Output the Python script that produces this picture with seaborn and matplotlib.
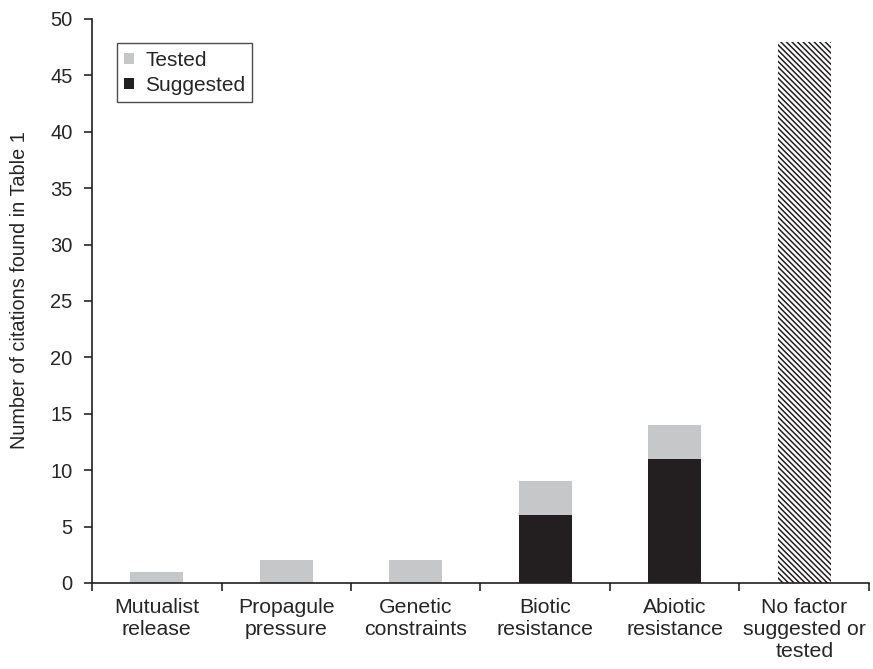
import numpy as np
import pandas as pd
import matplotlib
matplotlib.use('Agg')
import matplotlib.pyplot as plt
import seaborn as sns

categories = ['Mutualist\nrelease', 'Propagule\npressure', 'Genetic\nconstraints',
              'Biotic\nresistance', 'Abiotic\nresistance', 'No factor\nsuggested or\ntested']
suggested = [0, 0, 0, 6, 11, 0]
tested = [1, 2, 2, 3, 3, 0]
no_factor = [0, 0, 0, 0, 0, 48]

sns.set_style('white')
plt.rcParams['font.family'] = ['Liberation Sans', 'DejaVu Sans']
plt.rcParams['hatch.linewidth'] = 1.1

df = pd.DataFrame({'category': categories,
                   'suggested': suggested,
                   'total': np.array(suggested) + np.array(tested),
                   'none': no_factor})

fig = plt.figure(figsize=(8.73, 6.69), dpi=100)
ax = fig.add_axes([0.1054, 0.1286, 0.890, 0.843])

grey = '#c6c7c8'
black = '#231f20'

sns.barplot(data=df, x='category', y='total', color=grey, width=0.41,
            saturation=1, ax=ax, label='Tested', linewidth=0)
sns.barplot(data=df, x='category', y='suggested', color=black, width=0.41,
            saturation=1, ax=ax, label='Suggested', linewidth=0)
sns.barplot(data=df, x='category', y='none', color='white', width=0.41,
            saturation=1, ax=ax, edgecolor=black, linewidth=0, hatch='\\' * 6)

ax.set_xlim(-0.5, len(categories) - 0.5)
ax.set_ylim(0, 50)
ax.set_yticks(np.arange(0, 51, 5))
ax.set_xlabel('')
ax.set_ylabel('Number of citations found in Table 1', fontsize=14.3, va='center')
ax.yaxis.set_label_coords(-0.093, 0.52)

# tick marks sit between the categories
ax.set_xticks(np.arange(-0.5, len(categories), 1), minor=True)
ax.tick_params(axis='x', which='major', length=0, labelsize=15.3, pad=11)
ax.tick_params(axis='x', which='minor', length=6, width=1.2, direction='out', bottom=True)
ax.tick_params(axis='y', length=6, width=1.2, direction='out', left=True, labelsize=14.5, pad=8)

sns.despine(ax=ax)
for s in ['left', 'bottom']:
    ax.spines[s].set_color(black)
    ax.spines[s].set_linewidth(1.2)

handles, labels = ax.get_legend_handles_labels()
leg = ax.legend(handles[:2], labels[:2], loc='upper left', bbox_to_anchor=(0.032, 0.957),
                fontsize=15, frameon=True, fancybox=False, edgecolor=black,
                handlelength=0.45, handleheight=0.45, handletextpad=0.55,
                borderpad=0.35, labelspacing=0.3, borderaxespad=0)
leg.get_frame().set_linewidth(1.0)

fig.savefig('out.png', dpi=100)
